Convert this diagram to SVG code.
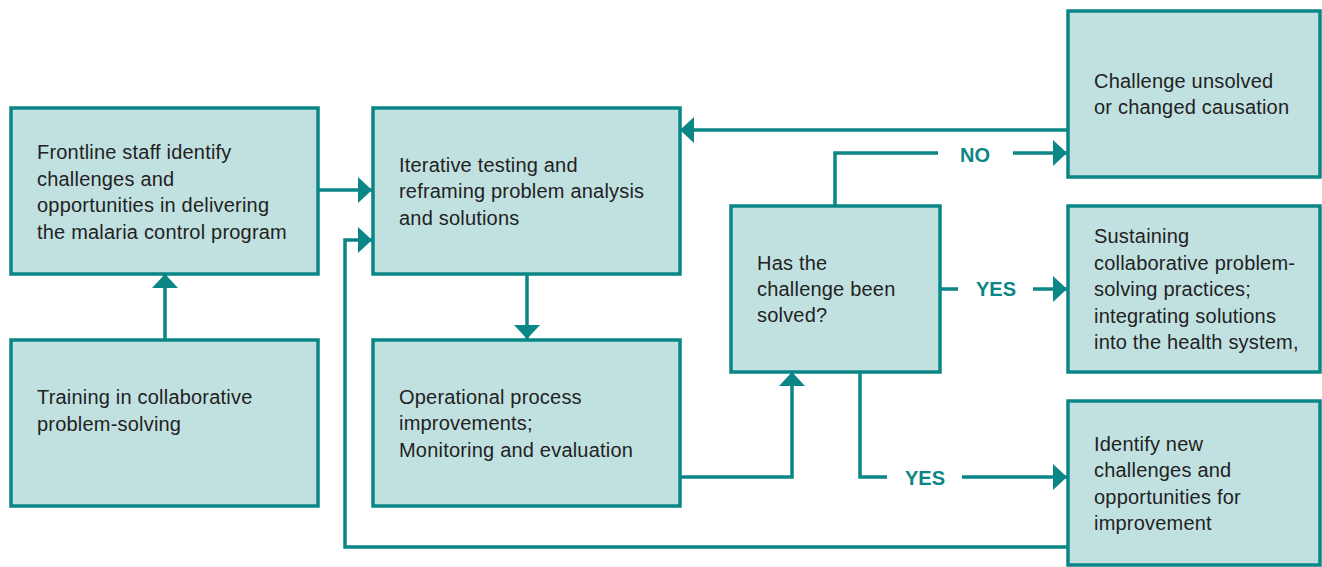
<svg xmlns="http://www.w3.org/2000/svg" width="1322" height="567" viewBox="0 0 1322 567">
<defs>
<marker id="ah" markerUnits="userSpaceOnUse" markerWidth="14" markerHeight="26" refX="14" refY="13" orient="auto">
<path d="M0,0 L14,13 L0,26 Z" fill="#0b8686"/>
</marker>
</defs>
<style>
.box{fill:#c1e1e1;stroke:#0b8686;stroke-width:3.5}
.t{font-family:"Liberation Sans",Arial,sans-serif;font-size:20px;letter-spacing:0.2px;fill:#222}
.lbl{font-family:"Liberation Sans",Arial,sans-serif;font-size:20px;font-weight:bold;fill:#0b8686;text-anchor:middle}
.c{fill:none;stroke:#0b8686;stroke-width:3.5}
</style>
<rect width="1322" height="567" fill="#fff"/>
<g id="connectors">
<path class="c" d="M319,190 H372" marker-end="url(#ah)"/>
<path class="c" d="M165,339 V274" marker-end="url(#ah)"/>
<path class="c" d="M527,274 V339" marker-end="url(#ah)"/>
<path class="c" d="M680,477 H792 V372" marker-end="url(#ah)"/>
<path class="c" d="M1067,130 H680" marker-end="url(#ah)"/>
<path class="c" d="M835,205 V153 H938"/>
<path class="c" d="M1013,153 H1067" marker-end="url(#ah)"/>
<path class="c" d="M940,289 H958"/>
<path class="c" d="M1033,289 H1067" marker-end="url(#ah)"/>
<path class="c" d="M860,372 V477 H887"/>
<path class="c" d="M962,477 H1067" marker-end="url(#ah)"/>
<path class="c" d="M1067,547 H345 V240 H372" marker-end="url(#ah)"/>
<text class="lbl" x="975" y="162">NO</text>
<text class="lbl" x="996" y="296">YES</text>
<text class="lbl" x="925" y="485">YES</text>
</g>
<g id="frontline">
<rect class="box" x="11" y="108" width="307" height="166"/>
<text class="t" x="37" y="159">Frontline staff identify</text>
<text class="t" x="37" y="186">challenges and</text>
<text class="t" x="37" y="212">opportunities in delivering</text>
<text class="t" x="37" y="239">the malaria control program</text>
</g>
<g id="training">
<rect class="box" x="11" y="340" width="307" height="166"/>
<text class="t" x="37" y="404">Training in collaborative</text>
<text class="t" x="37" y="431">problem-solving</text>
</g>
<g id="iterative">
<rect class="box" x="373" y="108" width="307" height="166"/>
<text class="t" x="399" y="172">Iterative testing and</text>
<text class="t" x="399" y="198">reframing problem analysis</text>
<text class="t" x="399" y="225">and solutions</text>
</g>
<g id="operational">
<rect class="box" x="373" y="340" width="307" height="166"/>
<text class="t" x="399" y="404">Operational process</text>
<text class="t" x="399" y="430">improvements;</text>
<text class="t" x="399" y="457">Monitoring and evaluation</text>
</g>
<g id="solved">
<rect class="box" x="731" y="206" width="209" height="166"/>
<text class="t" x="757" y="270">Has the</text>
<text class="t" x="757" y="296">challenge been</text>
<text class="t" x="757" y="322">solved?</text>
</g>
<g id="unsolved">
<rect class="box" x="1068" y="11" width="252" height="166"/>
<text class="t" x="1094" y="88">Challenge unsolved</text>
<text class="t" x="1094" y="114">or changed causation</text>
</g>
<g id="sustaining">
<rect class="box" x="1068" y="206" width="252" height="166"/>
<text class="t" x="1094" y="243">Sustaining</text>
<text class="t" x="1094" y="270">collaborative problem-</text>
<text class="t" x="1094" y="296">solving practices;</text>
<text class="t" x="1094" y="323">integrating solutions</text>
<text class="t" x="1094" y="349">into the health system,</text>
</g>
<g id="identify">
<rect class="box" x="1068" y="401" width="252" height="164"/>
<text class="t" x="1094" y="451">Identify new</text>
<text class="t" x="1094" y="477">challenges and</text>
<text class="t" x="1094" y="504">opportunities for</text>
<text class="t" x="1094" y="530">improvement</text>
</g>
</svg>
